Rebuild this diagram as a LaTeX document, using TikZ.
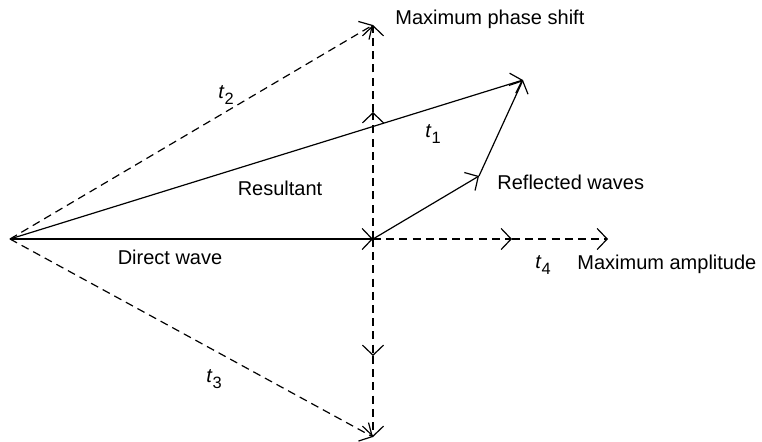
\documentclass[tikz,border=0pt]{standalone}
\usepackage{fontspec}
\setmainfont{Liberation Sans}
\usetikzlibrary{arrows.meta}
\newcommand{\tsub}[1]{\textit{t}\raisebox{-0.55ex}{\fontsize{8.2}{9}\selectfont #1}}
\begin{document}
\begin{tikzpicture}[x=0.5pt,y=-0.5pt,
  vec/.style={line width=0.6pt,-{Straight Barb[length=5pt,width=10.5pt,line width=0.6pt]}},
  dvec/.style={vec,dash pattern=on 4pt off 2.6pt},
  lbl/.style={font=\fontsize{10}{12}\selectfont,inner sep=0pt},
]
\useasboundingbox (0,0) rectangle (762,441);
\coordinate (O) at (10,239);
\coordinate (C) at (373,239);
\coordinate (T) at (373,25);
\coordinate (B) at (373,437);
\coordinate (P) at (523,80);
\coordinate (R) at (479,176);
\coordinate (M1) at (373,112);
\coordinate (M2) at (373,356);
\coordinate (H1) at (512,239);
\coordinate (H2) at (608,239);
% solid vectors
\draw[vec] (O) -- (C);
\draw[vec] (O) -- (P);
\draw[vec] (C) -- (R);
\draw[vec] (R) -- (P);
% dashed vectors
\draw[dvec] (O) -- (T);
\draw[dvec] (O) -- (B);
\draw[dvec] (C) -- (M1);
\draw[dvec] (M1) -- (T);
\draw[dvec] (C) -- (M2);
\draw[dvec] (M2) -- (B);
\draw[dvec] (C) -- (H1);
\draw[dvec] (H1) -- (H2);
% labels
\node[lbl,anchor=west] (lmps) at (395,19) {Maximum phase shift};
\node[lbl] (lt2) at (226,95) {\tsub{2}};
\node[lbl] (lt1) at (433,134) {\tsub{1}};
\node[lbl] (lres) at (280,188) {Resultant};
\node[lbl,anchor=west] (lrw) at (497,182) {Reflected waves};
\node[lbl] (ldw) at (170,257) {Direct wave};
\node[lbl] (lt4) at (543,265) {\tsub{4}};
\node[lbl,anchor=west] (lmax) at (577,264) {Maximum amplitude};
\node[lbl] (lt3) at (214,379) {\tsub{3}};
\end{tikzpicture}
\end{document}
